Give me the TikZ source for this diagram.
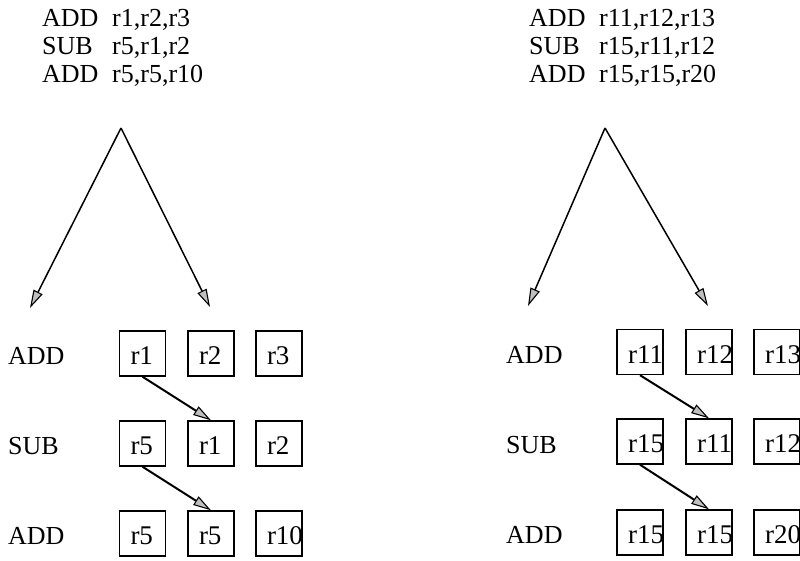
\documentclass[tikz,border=0pt]{standalone}
\usepackage{fontspec}
\setmainfont{Liberation Serif}
\usetikzlibrary{arrows.meta}

\tikzset{
  txt/.style={anchor=base west, inner sep=0pt, font=\fontsize{26}{28}\selectfont},
  regtxt/.style={txt, font=\fontsize{27}{29}\selectfont},
  reg/.style={draw, line width=1.4pt, minimum width=46pt, minimum height=45pt, inner sep=0pt},
  tip/.style={-{Triangle[length=18pt, width=10pt, fill=gray!50, line width=1.1pt]}},
  fan/.style={tip, line width=1.5pt},
  dep/.style={tip, line width=2pt},
}

% register box at a column/row position, its text set from the left edge
\newcommand{\regbox}[4]{%
  \node[reg] (#1) at (#2,#3) {};
  \node[regtxt] (#1t) at ([xshift=11.5pt,yshift=-11pt]#1.west) {#4};
}

\begin{document}
\begin{tikzpicture}[x=1pt, y=-1pt]
\useasboundingbox (0,0) rectangle (800,560);

% ---- left instruction sequence ----
\node[txt] (lop1) at (42,26) {ADD};  \node[txt] (larg1) at (112,26) {r1,r2,r3};
\node[txt] (lop2) at (42,54) {SUB};  \node[txt] (larg2) at (112,54) {r5,r1,r2};
\node[txt] (lop3) at (42,82) {ADD};  \node[txt] (larg3) at (112,82) {r5,r5,r10};

% ---- right instruction sequence ----
\node[txt] (rop1) at (529,26) {ADD}; \node[txt] (rarg1) at (599,26) {r11,r12,r13};
\node[txt] (rop2) at (529,54) {SUB}; \node[txt] (rarg2) at (599,54) {r15,r11,r12};
\node[txt] (rop3) at (529,82) {ADD}; \node[txt] (rarg3) at (599,82) {r15,r15,r20};

% ---- fan-out arrows ----
\coordinate (apexL) at (121,128);
\coordinate (tipLa) at (30,308);
\coordinate (tipLb) at (210,307);
\draw[fan] (apexL) -- (tipLa);
\draw[fan] (apexL) -- (tipLb);

\coordinate (apexR) at (605,128);
\coordinate (tipRa) at (528,306);
\coordinate (tipRb) at (708,306);
\draw[fan] (apexR) -- (tipRa);
\draw[fan] (apexR) -- (tipRb);

% ---- left operand table ----
\node[txt] (lrow1) at (8,364.5) {ADD};
\node[txt] (lrow2) at (8,454.5) {SUB};
\node[txt] (lrow3) at (8,544.5) {ADD};

\regbox{L11}{142.5}{353.5}{r1}
\regbox{L12}{211}{353.5}{r2}
\regbox{L13}{279}{353.5}{r3}
\regbox{L21}{142.5}{443.5}{r5}
\regbox{L22}{211}{443.5}{r1}
\regbox{L23}{279}{443.5}{r2}
\regbox{L31}{142.5}{533.5}{r5}
\regbox{L32}{211}{533.5}{r5}
\regbox{L33}{279}{533.5}{r10}

\draw[dep] (L11.south) -- (L22.north);
\draw[dep] (L21.south) -- (L32.north);

% ---- right operand table ----
\node[txt] (rrow1) at (506,363) {ADD};
\node[txt] (rrow2) at (506,453) {SUB};
\node[txt] (rrow3) at (506,543) {ADD};

\regbox{R11}{640}{352}{r11}
\regbox{R12}{709}{352}{r12}
\regbox{R13}{777}{352}{r13}
\regbox{R21}{640}{441.5}{r15}
\regbox{R22}{709}{441.5}{r11}
\regbox{R23}{777}{441.5}{r12}
\regbox{R31}{640}{532.5}{r15}
\regbox{R32}{709}{532.5}{r15}
\regbox{R33}{777}{532.5}{r20}

\draw[dep] (R11.south) -- (R22.north);
\draw[dep] (R21.south) -- (R32.north);
\end{tikzpicture}
\end{document}
